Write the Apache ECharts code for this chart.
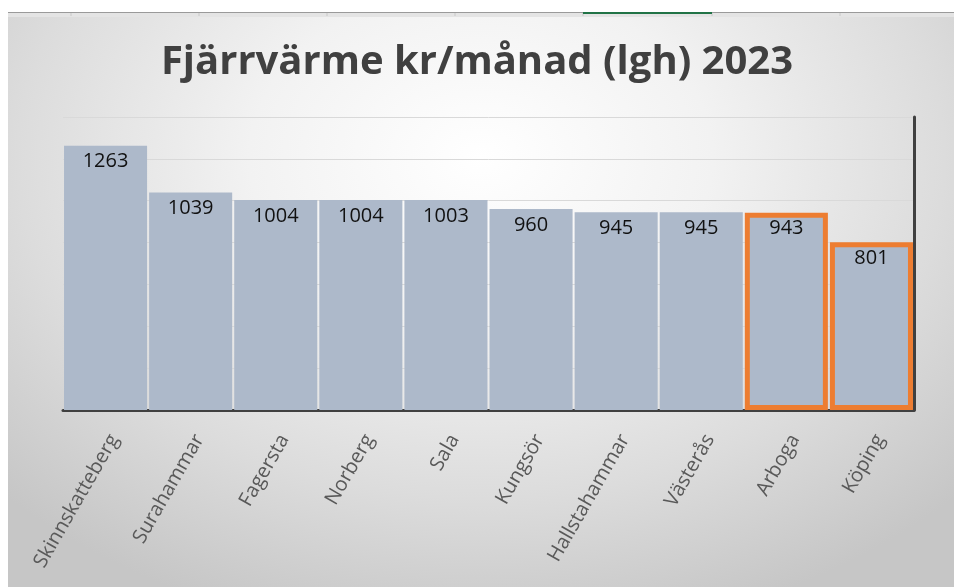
<!DOCTYPE html>
<html>
<head>
<meta charset="utf-8">
<script src="https://cdn.jsdelivr.net/npm/echarts@6/dist/echarts.min.js"></script>
<style>
  html, body { margin: 0; padding: 0; background: #ffffff; }
  #bg { position: absolute; left: 8px; top: 15px; width: 946px; height: 572px;
        background: radial-gradient(ellipse 70% 85% at 50% 25%, #ffffff 0%, #f2f2f2 35%, #dcdcdc 70%, #c6c6c6 100%); }
  #strip { position: absolute; left: 8px; top: 12px; width: 946px; height: 4px;
           border-top: 1px solid #9a9a9a; background: #e4e4e4; }
  #chart { position: absolute; left: 0; top: 0; width: 954px; height: 587px; }
</style>
</head>
<body>
<div id="bg"></div>
<div id="strip"></div>
<div id="chart"></div>
<script>
const categories = ['Skinnskatteberg', 'Surahammar', 'Fagersta', 'Norberg', 'Sala', 'Kungsör', 'Hallstahammar', 'Västerås', 'Arboga', 'Köping'];
const values = [1263, 1039, 1004, 1004, 1003, 960, 945, 945, 943, 801];
const highlighted = ['Arboga', 'Köping'];
const titleText = 'Fjärrvärme kr/månad (lgh) 2023';
const cellSeparators = [71, 199, 327, 455, 583, 712, 840];
const selectedCell = [583, 712];

const chart = echarts.init(document.getElementById('chart'), null, { renderer: 'canvas' });

const seriesData = values.map((v, i) => {
  const item = { value: v };
  if (highlighted.includes(categories[i])) {
    item.itemStyle = { borderColor: '#ED7D31', borderWidth: 5 };
  }
  return item;
});

const graphics = cellSeparators.map(x => ({
  type: 'line', shape: { x1: x, y1: 13, x2: x, y2: 16 },
  style: { stroke: '#c8c8c8', lineWidth: 1 }, silent: true
}));
graphics.push({
  type: 'line', shape: { x1: selectedCell[0], y1: 13, x2: selectedCell[1], y2: 13 },
  style: { stroke: '#217346', lineWidth: 2 }, silent: true
});

chart.setOption({
  backgroundColor: 'transparent',
  animation: false,
  title: {
    text: titleText,
    left: 'center',
    top: 38,
    textStyle: { fontFamily: 'Open Sans', fontWeight: 'bold', fontSize: 40, color: '#404040' }
  },
  graphic: graphics,
  grid: { left: 63, right: 40, top: 117, bottom: 177, containLabel: false },
  xAxis: {
    type: 'category',
    data: categories,
    axisLine: { show: true, lineStyle: { color: '#404040', width: 3 } },
    axisTick: { show: false },
    axisLabel: { rotate: 60, margin: 21, verticalAlign: 'top', fontFamily: 'Open Sans', fontSize: 20, color: '#595959', interval: 0 }
  },
  yAxis: {
    type: 'value',
    min: 0, max: 1400, interval: 200,
    position: 'right',
    axisLine: { show: true, lineStyle: { color: '#404040', width: 3 } },
    axisTick: { show: false },
    axisLabel: { show: false },
    splitLine: { show: true, lineStyle: { color: '#d9d9d9', width: 1 } }
  },
  series: [{
    type: 'bar',
    data: seriesData,
    barCategoryGap: '2.4%',
    itemStyle: { color: '#ADB9CA' },
    label: {
      show: true, position: 'insideTop', distance: 6,
      fontFamily: 'Open Sans', fontSize: 20, color: '#111111'
    }
  }]
});
</script>
</body>
</html>
